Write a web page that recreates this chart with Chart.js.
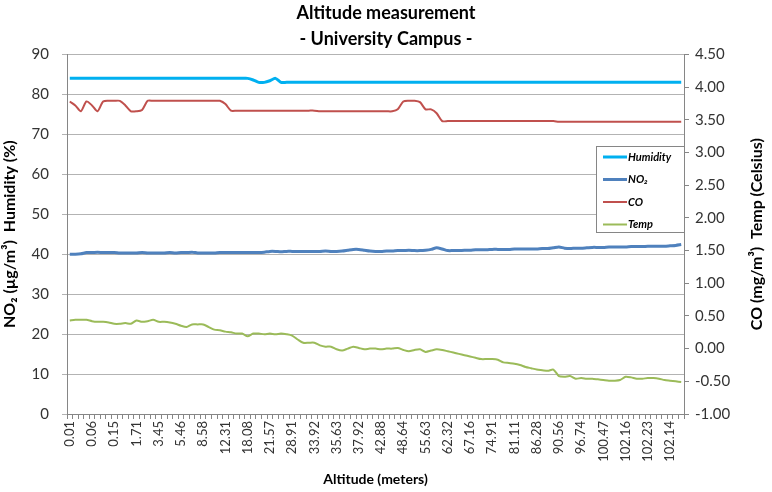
<!DOCTYPE html>
<html>
<head>
<meta charset="utf-8">
<script src="https://cdn.jsdelivr.net/npm/chart.js@4.4.0/dist/chart.umd.min.js"></script>
<style>
  html, body { margin: 0; padding: 0; background: #fff; }
</style>
</head>
<body>
<canvas id="chart" width="772" height="492"></canvas>
<script>
// altitude (meters) for each reading, every 4th one is shown on the axis
const altitude = [
  0.01, 0.02, 0.03, 0.05, 0.06, 0.08, 0.10, 0.12, 0.15, 0.42, 0.83, 1.25,
  1.71, 2.15, 2.60, 3.02, 3.45, 3.92, 4.48, 4.97, 5.46, 6.21, 7.03, 7.82,
  8.58, 9.51, 10.44, 11.37, 12.31, 13.72, 15.18, 16.63, 18.08, 18.95, 19.83, 20.71,
  21.57, 23.41, 25.24, 27.08, 28.91, 30.16, 31.42, 32.67, 33.92, 34.35, 34.77, 35.20,
  35.63, 36.21, 36.78, 37.35, 37.92, 39.16, 40.40, 41.64, 42.88, 44.32, 45.76, 47.20,
  48.64, 50.39, 52.14, 53.88, 55.63, 57.30, 58.98, 60.65, 62.32, 63.53, 64.74, 65.95,
  67.16, 69.10, 71.04, 72.97, 74.91, 76.46, 78.01, 79.56, 81.11, 82.40, 83.70, 84.99,
  86.28, 87.35, 88.42, 89.49, 90.56, 92.10, 93.65, 95.19, 96.74, 97.67, 98.61, 99.54,
  100.47, 100.89, 101.31, 101.74, 102.16, 102.18, 102.20, 102.21, 102.23, 102.20, 102.18, 102.16,
  102.14, 102.12, 102.10
];

// left axis series
const humidity = [
  84, 84, 84, 84, 84, 84, 84, 84, 84, 84,
  84, 84, 84, 84, 84, 84, 84, 84, 84, 84,
  84, 84, 84, 84, 84, 84, 84, 84, 84, 84,
  84, 84, 84, 83.6, 83, 83, 83.4, 84, 83, 83,
  83, 83, 83, 83, 83, 83, 83, 83, 83, 83,
  83, 83, 83, 83, 83, 83, 83, 83, 83, 83,
  83, 83, 83, 83, 83, 83, 83, 83, 83, 83,
  83, 83, 83, 83, 83, 83, 83, 83, 83, 83,
  83, 83, 83, 83, 83, 83, 83, 83, 83, 83,
  83, 83, 83, 83, 83, 83, 83, 83, 83, 83,
  83, 83, 83, 83, 83, 83, 83, 83, 83, 83,
  83
];
const no2 = [
  40.0, 40.0, 40.1, 40.4, 40.4, 40.5, 40.4, 40.4, 40.4, 40.3,
  40.3, 40.3, 40.3, 40.4, 40.3, 40.3, 40.3, 40.3, 40.4, 40.3,
  40.4, 40.4, 40.5, 40.3, 40.3, 40.3, 40.3, 40.4, 40.4, 40.4,
  40.4, 40.4, 40.4, 40.4, 40.4, 40.5, 40.7, 40.7, 40.6, 40.7,
  40.7, 40.7, 40.7, 40.7, 40.7, 40.7, 40.8, 40.7, 40.7, 40.8,
  41.0, 41.2, 41.2, 41.0, 40.8, 40.7, 40.7, 40.8, 40.8, 40.9,
  40.9, 41.0, 40.9, 40.9, 41.0, 41.2, 41.6, 41.3, 40.9, 40.9,
  40.9, 41.0, 41.0, 41.1, 41.1, 41.1, 41.2, 41.2, 41.2, 41.2,
  41.3, 41.3, 41.3, 41.3, 41.3, 41.4, 41.4, 41.6, 41.8, 41.5,
  41.4, 41.5, 41.5, 41.6, 41.7, 41.7, 41.7, 41.8, 41.8, 41.8,
  41.8, 41.9, 41.9, 41.9, 42.0, 42.0, 42.0, 42.0, 42.1, 42.2,
  42.4
];

// right axis series
const co = [
  3.78, 3.72, 3.63, 3.78, 3.72, 3.63, 3.78, 3.79, 3.79, 3.79,
  3.72, 3.63, 3.63, 3.65, 3.79, 3.79, 3.79, 3.79, 3.79, 3.79,
  3.79, 3.79, 3.79, 3.79, 3.79, 3.79, 3.79, 3.79, 3.74, 3.64,
  3.64, 3.64, 3.64, 3.64, 3.64, 3.64, 3.64, 3.64, 3.64, 3.64,
  3.64, 3.64, 3.64, 3.64, 3.64, 3.63, 3.63, 3.63, 3.63, 3.63,
  3.63, 3.63, 3.63, 3.63, 3.63, 3.63, 3.63, 3.63, 3.63, 3.66,
  3.78, 3.79, 3.79, 3.77, 3.66, 3.66, 3.60, 3.48, 3.48, 3.48,
  3.48, 3.48, 3.48, 3.48, 3.48, 3.48, 3.48, 3.48, 3.48, 3.48,
  3.48, 3.48, 3.48, 3.48, 3.48, 3.48, 3.48, 3.48, 3.47, 3.47,
  3.47, 3.47, 3.47, 3.47, 3.47, 3.47, 3.47, 3.47, 3.47, 3.47,
  3.47, 3.47, 3.47, 3.47, 3.47, 3.47, 3.47, 3.47, 3.47, 3.47,
  3.47
];
const temp = [
  0.43, 0.44, 0.44, 0.44, 0.42, 0.41, 0.41, 0.40, 0.38, 0.38,
  0.39, 0.38, 0.43, 0.41, 0.42, 0.44, 0.41, 0.41, 0.40, 0.38,
  0.35, 0.33, 0.37, 0.37, 0.37, 0.33, 0.29, 0.28, 0.26, 0.25,
  0.23, 0.23, 0.19, 0.23, 0.23, 0.22, 0.23, 0.22, 0.23, 0.22,
  0.20, 0.14, 0.09, 0.09, 0.09, 0.05, 0.03, 0.03, -0.01, -0.03,
  0.00, 0.03, 0.01, -0.01, 0.00, 0.00, -0.01, 0.00, 0.00, 0.01,
  -0.02, -0.04, -0.02, -0.01, -0.05, -0.03, -0.01, -0.02, -0.04, -0.06,
  -0.08, -0.10, -0.12, -0.14, -0.16, -0.16, -0.16, -0.17, -0.21, -0.22,
  -0.23, -0.25, -0.28, -0.30, -0.32, -0.33, -0.34, -0.32, -0.42, -0.43,
  -0.42, -0.46, -0.45, -0.46, -0.46, -0.47, -0.48, -0.49, -0.49, -0.48,
  -0.43, -0.44, -0.46, -0.46, -0.45, -0.45, -0.46, -0.48, -0.49, -0.50,
  -0.51
];

// axis ranges
const leftAxis = { min: 0, max: 90, step: 10 };
const rightAxis = { min: -1, max: 4.5, step: 0.5 };

const FONT = 'Lato, "DejaVu Sans", sans-serif';
Chart.defaults.font.family = FONT;
Chart.defaults.color = '#333';

// legend box inside the plot, Excel style
const legendBox = {
  id: 'legendBox',
  afterDraw(chart) {
    const ctx = chart.ctx;
    const area = chart.chartArea;
    const w = 88, h = 86;
    const x = area.right - w, y = 146;
    ctx.save();
    ctx.fillStyle = '#fff';
    ctx.fillRect(x, y, w, h);
    ctx.strokeStyle = '#868686';
    ctx.lineWidth = 1;
    ctx.strokeRect(x + 0.5, y + 0.5, w, h);
    ctx.font = 'italic bold 11px ' + FONT;
    ctx.textBaseline = 'middle';
    chart.data.datasets.forEach((ds, i) => {
      const ly = y + 11 + i * 22.5;
      ctx.strokeStyle = ds.borderColor;
      ctx.lineWidth = ds.borderWidth;
      ctx.beginPath();
      ctx.moveTo(x + 7, ly);
      ctx.lineTo(x + 31, ly);
      ctx.stroke();
      ctx.fillStyle = '#000';
      ctx.fillText(ds.label, x + 32, ly);
    });
    ctx.restore();
  }
};

// right axis title reads bottom to top like the left one
const rightTitle = {
  id: 'rightTitle',
  afterDraw(chart) {
    const ctx = chart.ctx;
    const area = chart.chartArea;
    ctx.save();
    ctx.translate(chart.width - 15, (area.top + area.bottom) / 2);
    ctx.rotate(-Math.PI / 2);
    ctx.font = 'bold 16px ' + FONT;
    ctx.fillStyle = '#000';
    ctx.textAlign = 'center';
    ctx.textBaseline = 'middle';
    ctx.fillText('CO (mg/m³)  Temp (Celsius)', 0, 0);
    ctx.restore();
  }
};

new Chart(document.getElementById('chart'), {
  type: 'line',
  data: {
    labels: altitude,
    datasets: [
      { label: 'Humidity', data: humidity, borderColor: '#00b0f0', borderWidth: 3, yAxisID: 'y' },
      { label: 'NO₂', data: no2, borderColor: '#4f81bd', borderWidth: 3, yAxisID: 'y' },
      { label: 'CO', data: co, borderColor: '#c0504d', borderWidth: 2, yAxisID: 'y2' },
      { label: 'Temp', data: temp, borderColor: '#9bbb59', borderWidth: 2, yAxisID: 'y2' }
    ]
  },
  options: {
    responsive: false,
    animation: false,
    devicePixelRatio: 1,
    elements: {
      point: { radius: 0 },
      line: { tension: 0.25 }
    },
    layout: { padding: 0 },
    plugins: {
      legend: { display: false },
      tooltip: { enabled: false },
      title: {
        display: true,
        text: ['Altitude measurement', '- University Campus -'],
        color: '#000',
        font: { size: 18, weight: 'bold', lineHeight: 1.4 },
        padding: { top: 1, bottom: 3 }
      }
    },
    scales: {
      x: {
        offset: true,
        grid: { offset: true, drawOnChartArea: false, tickLength: 5, color: '#868686' },
        border: { color: '#868686' },
        ticks: {
          autoSkip: false,
          minRotation: 90,
          maxRotation: 90,
          padding: 2,
          font: { size: 13 },
          callback: (v, i) => (i % 4 === 0 ? altitude[i].toFixed(2) : '')
        },
        title: {
          display: true,
          text: 'Altitude (meters)',
          color: '#000',
          font: { size: 14, weight: 'bold' },
          padding: { top: 0, bottom: 4 }
        },
        afterFit: s => { s.height = 78; }
      },
      y: {
        position: 'left',
        min: leftAxis.min,
        max: leftAxis.max,
        grid: { color: '#b3b3b3', tickLength: 5 },
        border: { color: '#868686' },
        ticks: { stepSize: leftAxis.step, font: { size: 15 }, padding: 13 },
        title: {
          display: true,
          text: 'NO₂ (µg/m³)  Humidity (%)',
          color: '#000',
          font: { size: 16, weight: 'bold' },
          padding: { top: 0, bottom: 0 }
        },
        afterFit: s => { s.width = 67; }
      },
      y2: {
        position: 'right',
        min: rightAxis.min,
        max: rightAxis.max,
        grid: { drawOnChartArea: false, tickLength: 5, color: '#868686' },
        border: { color: '#868686' },
        ticks: {
          stepSize: rightAxis.step,
          font: { size: 15 },
          padding: 6,
          callback: v => v.toFixed(2)
        },
        title: { display: false },
        afterFit: s => { s.width = 88; }
      }
    }
  },
  plugins: [legendBox, rightTitle]
});
</script>
</body>
</html>
